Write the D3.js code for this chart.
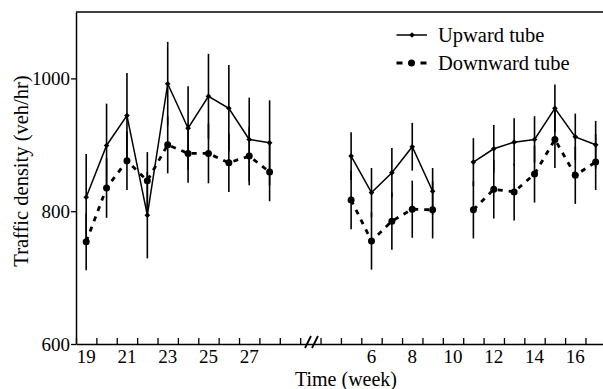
<!DOCTYPE html>
<html>
<head>
<meta charset="utf-8">
<script src="https://cdn.jsdelivr.net/npm/d3@7"></script>
<style>
  body { margin: 0; background: #fff; }
</style>
</head>
<body>
<svg id="svg1" width="603" height="389"></svg>
<script>
'use strict'
// weeks before the break (weeks 19-28) and after it (weeks 5-9 and 11-17)
const weeksA = [19, 20, 21, 22, 23, 24, 25, 26, 27, 28];
const upA = [821, 899, 944, 794, 992, 925, 973, 955, 908, 903];
const upErrA = [65, 63, 64, 65, 63, 63, 64, 65, 63, 64];
const downA = [754, 835, 876, 846, 900, 887, 887, 873, 883, 859];
const downErrA = [43, 45, 44, 43, 43, 44, 45, 44, 44, 44];

const weeksB = [5, 6, 7, 8, 9];
const upB = [883, 828, 858, 897, 830];
const upErrB = [36, 37, 37, 36, 35];
const downB = [817, 755, 785, 803, 802];
const downErrB = [44, 43, 43, 43, 43];

const weeksC = [11, 12, 13, 14, 15, 16, 17];
const upC = [874, 894, 904, 908, 955, 912, 900];
const upErrC = [36, 36, 36, 35, 36, 35, 36];
const downC = [802, 833, 829, 856, 908, 854, 874];
const downErrC = [43, 44, 43, 43, 43, 43, 42];

const yTicks = [600, 800, 1000];
const xLabelsA = [19, 21, 23, 25, 27];
const xLabelsB = [6, 8, 10, 12, 14, 16];
const legendNames = ["Upward tube", "Downward tube"];

// weeks after the break are placed on the same axis, shifted by this many positions
const shift = 27;
const serif = '"Liberation Serif", "Times New Roman", serif';

let svg = d3.select("#svg1");
let mLeft = 76, mRight = 603, mTop = 12, mBottom = 344;

let x = d3.scaleLinear().domain([18.5, 44.36]).range([mLeft, mRight]);
let y = d3.scaleLinear().domain([600, 1100]).range([mBottom, mTop]);

// build the groups of points
function makeGroup(weeks, off, up, upErr, down, downErr) {
    return weeks.map((w, i) => ({
        pos: w + off, up: up[i], upErr: upErr[i], down: down[i], downErr: downErr[i]
    }));
}
let groups = [
    makeGroup(weeksA, 0, upA, upErrA, downA, downErrA),
    makeGroup(weeksB, shift, upB, upErrB, downB, downErrB),
    makeGroup(weeksC, shift, upC, upErrC, downC, downErrC)
];

// frame: top line, left axis, bottom axis
svg.append("line").attr("x1", mLeft).attr("x2", mRight).attr("y1", mTop).attr("y2", mTop)
    .attr("stroke", "#000").attr("stroke-width", 1.5);

let yAxis = svg.append("g")
    .attr("transform", `translate(${mLeft},0)`)
    .call(d3.axisLeft(y).tickValues(yTicks).tickFormat(d3.format("d"))
        .tickSize(5).tickPadding(1).tickSizeOuter(0));
yAxis.attr("font-family", serif).attr("font-size", 19);
yAxis.select(".domain").attr("stroke-width", 1.5);
yAxis.selectAll(".tick line").attr("stroke-width", 1.3);
yAxis.selectAll(".tick text").attr("fill", "#000");

let tickPos = d3.range(18.5, 44, 1);
let xAxis = svg.append("g")
    .attr("transform", `translate(0,${mBottom})`)
    .call(d3.axisBottom(x).tickValues(tickPos).tickSize(-6).tickFormat("").tickSizeOuter(0));
xAxis.select(".domain").attr("stroke-width", 1.5);
xAxis.selectAll(".tick line").attr("stroke-width", 1.3);

// week labels under the axis
let labels = xLabelsA.map(w => ({ pos: w, t: w })).concat(xLabelsB.map(w => ({ pos: w + shift, t: w })));
svg.append("g").selectAll("text")
    .data(labels)
    .enter().append("text")
    .attr("x", d => x(d.pos))
    .attr("y", 363)
    .attr("text-anchor", "middle")
    .attr("font-family", serif)
    .attr("font-size", 19)
    .attr("fill", "#000")
    .text(d => d.t);

// axis break marks
let brk = svg.append("g").attr("stroke", "#000").attr("stroke-width", 1.8);
[305, 312].forEach(bx => {
    brk.append("line").attr("x1", bx).attr("y1", mBottom + 4).attr("x2", bx + 6).attr("y2", mBottom - 8);
});

// error bars
let bars = svg.append("g").attr("stroke", "#000").attr("stroke-width", 1.6);
groups.forEach(g => {
    g.forEach(d => {
        bars.append("line").attr("x1", x(d.pos)).attr("x2", x(d.pos))
            .attr("y1", y(d.up + d.upErr)).attr("y2", y(d.up - d.upErr));
        bars.append("line").attr("x1", x(d.pos)).attr("x2", x(d.pos))
            .attr("y1", y(d.down + d.downErr)).attr("y2", y(d.down - d.downErr));
    });
});

let upLine = d3.line().x(d => x(d.pos)).y(d => y(d.up));
let downLine = d3.line().x(d => x(d.pos)).y(d => y(d.down));
let diamond = d3.symbol().type(d3.symbolSquare).size(16);

groups.forEach(g => {
    svg.append("path").attr("d", upLine(g))
        .attr("fill", "none").attr("stroke", "#000").attr("stroke-width", 1.5);
    svg.append("path").attr("d", downLine(g))
        .attr("fill", "none").attr("stroke", "#000").attr("stroke-width", 2.8)
        .attr("stroke-dasharray", "5,6");
    svg.append("g").selectAll("path")
        .data(g)
        .enter().append("path")
        .attr("d", diamond)
        .attr("transform", d => `translate(${x(d.pos)},${y(d.up)}) rotate(45)`)
        .attr("fill", "#000");
    svg.append("g").selectAll("circle")
        .data(g)
        .enter().append("circle")
        .attr("cx", d => x(d.pos))
        .attr("cy", d => y(d.down))
        .attr("r", 3.5)
        .attr("fill", "#000");
});

// legend
let legend = svg.append("g")
    .selectAll("g")
    .data(legendNames)
    .enter().append("g")
    .attr("transform", (d, i) => `translate(0,${35 + i * 28})`);

legend.append("line")
    .attr("x1", 396.5).attr("x2", 427).attr("y1", 0).attr("y2", 0)
    .attr("stroke", "#000")
    .attr("stroke-width", (d, i) => i === 0 ? 1.5 : 2.8)
    .attr("stroke-dasharray", (d, i) => i === 0 ? null : "6,18");
legend.filter((d, i) => i === 0).append("path")
    .attr("d", diamond)
    .attr("transform", "translate(412,0) rotate(45)")
    .attr("fill", "#000");
legend.filter((d, i) => i === 1).append("circle")
    .attr("cx", 411.5).attr("cy", 0).attr("r", 3.5)
    .attr("fill", "#000");
legend.append("text")
    .attr("x", 438)
    .attr("y", 0)
    .attr("dy", "0.33em")
    .attr("font-family", serif)
    .attr("font-size", 20.5)
    .attr("fill", "#000")
    .text(d => d);

// axis titles
svg.append("text")
    .attr("transform", "translate(28,171) rotate(-90)")
    .attr("text-anchor", "middle")
    .attr("font-family", serif)
    .attr("font-size", 20.5)
    .attr("fill", "#000")
    .text("Traffic density (veh/hr)");

svg.append("text")
    .attr("x", 346)
    .attr("y", 386)
    .attr("text-anchor", "middle")
    .attr("font-family", serif)
    .attr("font-size", 20)
    .attr("fill", "#000")
    .text("Time (week)");
</script>
</body>
</html>
